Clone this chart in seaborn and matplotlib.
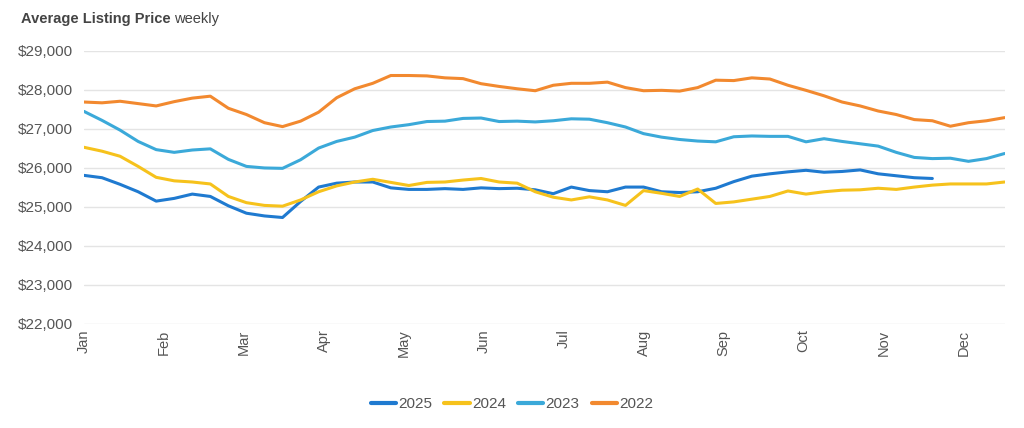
import numpy as np
import pandas as pd
import matplotlib
matplotlib.use("Agg")
import matplotlib.pyplot as plt
import seaborn as sns

# ── Data (weekly average listing price) ──────────────────────────────────────
months = ["Jan", "Feb", "Mar", "Apr", "May", "Jun",
          "Jul", "Aug", "Sep", "Oct", "Nov", "Dec"]

price_2022 = [27690, 27670, 27710, 27650, 27590, 27700, 27790, 27840, 27530, 27370,
              27160, 27060, 27200, 27430, 27800, 28030, 28170, 28370, 28370, 28360,
              28310, 28290, 28160, 28090, 28030, 27980, 28120, 28170, 28170, 28200,
              28060, 27980, 27990, 27970, 28060, 28250, 28240, 28310, 28280, 28120,
              27990, 27850, 27690, 27590, 27460, 27370, 27240, 27210, 27070, 27160,
              27210, 27290]
price_2023 = [27450, 27220, 26970, 26680, 26470, 26400, 26460, 26490, 26220, 26040,
              26000, 25990, 26210, 26510, 26680, 26790, 26960, 27050, 27110, 27190,
              27200, 27270, 27280, 27190, 27200, 27180, 27210, 27260, 27250, 27160,
              27050, 26880, 26790, 26730, 26690, 26670, 26800, 26820, 26810, 26810,
              26670, 26750, 26680, 26620, 26560, 26400, 26270, 26240, 26250, 26170,
              26240, 26370]
price_2024 = [26530, 26430, 26300, 26040, 25760, 25670, 25640, 25590, 25270, 25110,
              25040, 25020, 25180, 25390, 25540, 25640, 25710, 25630, 25550, 25630,
              25640, 25690, 25730, 25640, 25610, 25390, 25250, 25180, 25260, 25180,
              25040, 25420, 25350, 25270, 25460, 25090, 25130, 25200, 25270, 25410,
              25330, 25390, 25430, 25440, 25480, 25450, 25510, 25560, 25590, 25590,
              25590, 25640]
price_2025 = [25810, 25750, 25580, 25390, 25150, 25220, 25330, 25270, 25030, 24840,
              24770, 24730, 25140, 25510, 25610, 25640, 25640, 25490, 25450, 25450,
              25470, 25450, 25490, 25470, 25480, 25440, 25340, 25510, 25420, 25390,
              25510, 25510, 25390, 25370, 25390, 25480, 25650, 25790, 25850, 25900,
              25940, 25890, 25910, 25950, 25850, 25800, 25750, 25730]

COLORS = {
    "2025": "#1f7ad0",
    "2024": "#f6c21c",
    "2023": "#3ba9d9",
    "2022": "#f2892f",
}
WEEKS_PER_MONTH = 4.43  # month label spacing in weekly steps, as drawn

series = {"2025": price_2025, "2024": price_2024, "2023": price_2023, "2022": price_2022}
df = pd.concat(
    [pd.DataFrame({"week": np.arange(len(v)), "price": v, "year": k})
     for k, v in series.items()],
    ignore_index=True,
)

# ── Plot ─────────────────────────────────────────────────────────────────────
sns.set_theme(style="white")
plt.rcParams["font.family"] = ["Liberation Sans", "DejaVu Sans"]

fig = plt.figure(figsize=(10.24, 4.28), dpi=100)
ax = fig.add_axes([0.082, 0.243, 0.899, 0.638])

sns.lineplot(data=df, x="week", y="price", hue="year",
             hue_order=list(COLORS), palette=COLORS,
             linewidth=2.2, ax=ax, legend=True)

ax.set_xlim(0, len(price_2022) - 1)
ax.set_ylim(22000, 29000)
ax.set_yticks(np.arange(22000, 29001, 1000))
ax.yaxis.set_major_formatter(matplotlib.ticker.FuncFormatter(lambda v, _: f"${v:,.0f}"))
ax.set_xticks(np.arange(len(months)) * WEEKS_PER_MONTH)
ax.set_xticklabels(months, rotation=90)
ax.tick_params(axis="both", length=0, labelsize=10.5, labelcolor="#555555", pad=4)
ax.tick_params(axis="y", labelsize=11, pad=8)
ax.grid(axis="y", color="#e4e4e4", linewidth=1.0)
ax.set_axisbelow(True)
for s in ax.spines.values():
    s.set_visible(False)
ax.set_xlabel("")
ax.set_ylabel("")

leg = ax.legend(loc="center", bbox_to_anchor=(0.5, 0.055), bbox_transform=fig.transFigure,
                ncol=4, frameon=False, fontsize=11, handlelength=1.65,
                handletextpad=0.15, columnspacing=0.8)
for line in leg.get_lines():
    line.set_linewidth(3)
for t in leg.get_texts():
    t.set_color("#555555")

# title: bold part followed by regular part
t1 = fig.text(0.0205, 0.955, "Average Listing Price", fontsize=10.5,
              fontweight="bold", color="#444444", va="center", ha="left")
fig.canvas.draw()
bb = t1.get_window_extent(fig.canvas.get_renderer())
x_after = fig.transFigure.inverted().transform((bb.x1, bb.y0))[0]
fig.text(x_after + 0.003, 0.955, "weekly", fontsize=10.5,
         color="#444444", va="center", ha="left")

fig.savefig("out.png", dpi=100)
